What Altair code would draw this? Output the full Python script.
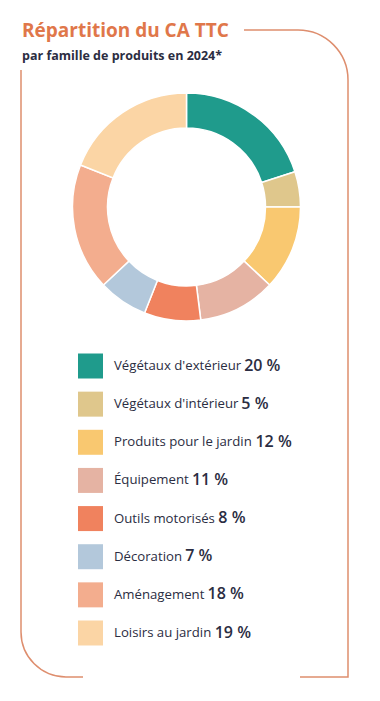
import altair as alt
import pandas as pd

# ---- data ----
categories = ["Végétaux d'extérieur", "Végétaux d'intérieur", "Produits pour le jardin",
              "Équipement", "Outils motorisés", "Décoration", "Aménagement", "Loisirs au jardin"]
shares = [20, 5, 12, 11, 8, 7, 18, 19]
colors = ["#1f9b8c", "#dfc78c", "#f9c870", "#e5b3a3", "#f0825e", "#b3c8db", "#f3ad8e", "#fbd5a5"]
title_text = "Répartition du CA TTC"
subtitle_text = "par famille de produits en 2024*"

# ---- styling ----
FONT = "Open Sans"
LABEL_SIZE = 13.2
PCT_SIZE = 16
TEXT_COLOR = "#2b2d42"
ACCENT = "#e0774a"
BORDER = "#de8e6e"
LABEL_X = 106

# approximate Open Sans advance widths (em) to place the bold percentage after each label
W = {'a': .556, 'b': .613, 'c': .48, 'd': .613, 'e': .561, 'f': .336, 'g': .546, 'h': .614,
     'i': .258, 'j': .258, 'k': .529, 'l': .258, 'm': .932, 'n': .614, 'o': .604, 'p': .613,
     'q': .613, 'r': .409, 's': .478, 't': .353, 'u': .614, 'v': .501, 'w': .778, 'x': .524,
     'y': .501, 'z': .463, ' ': .26, "'": .203, 'V': .592, 'P': .612, 'É': .556, 'E': .556,
     'O': .78, 'D': .73, 'A': .633, 'L': .519, 'é': .561}


def text_w(s, size):
    return sum(W.get(c, .56) for c in s) * size


df = pd.DataFrame({
    "cat": categories,
    "share": shares,
    "order": list(range(len(categories))),
})
df["pct"] = [f"{v} %" for v in shares]
df["px"] = [LABEL_X + text_w(c, LABEL_SIZE) + 3 for c in categories]

one = pd.DataFrame({"a": [0]})

border = alt.Chart(one).mark_rect(
    fillOpacity=0, stroke=BORDER, strokeWidth=1.5,
    cornerRadiusTopRight=50, cornerRadiusBottomLeft=45
).encode(x=alt.value(13), x2=alt.value(340), y=alt.value(22), y2=alt.value(669))

cover_top = alt.Chart(one).mark_rect(fill="white").encode(
    x=alt.value(0), x2=alt.value(236), y=alt.value(0), y2=alt.value(62))
cover_bottom = alt.Chart(one).mark_rect(fill="white").encode(
    x=alt.value(75), x2=alt.value(292), y=alt.value(662), y2=alt.value(676))

color = alt.Color("cat:N", scale=alt.Scale(domain=categories, range=colors), legend=None)

donut = alt.Chart(df).mark_arc(innerRadius=79, outerRadius=114, stroke="white", strokeWidth=1.5).encode(
    theta=alt.Theta("share:Q", stack=True),
    order=alt.Order("order:Q"),
    color=color,
    x=alt.value(178.5), y=alt.value(199),
)

yenc = alt.Y("cat:N", sort=categories, axis=None,
             scale=alt.Scale(type="point", range=[358, 625], padding=0))

squares = alt.Chart(df).mark_square(size=625, opacity=1, strokeWidth=0).encode(
    x=alt.value(82.5), y=yenc, color=color)

labels = alt.Chart(df).mark_text(align="left", baseline="middle", font=FONT,
                                 fontSize=LABEL_SIZE, color=TEXT_COLOR).encode(
    x=alt.value(LABEL_X), y=yenc, text="cat:N")

pcts = alt.Chart(df).mark_text(align="left", baseline="middle", font=FONT, fontWeight=600,
                               fontSize=PCT_SIZE, color=TEXT_COLOR, dy=-0.5).encode(
    x=alt.X("px:Q", scale=None), y=yenc, text="pct:N")

title = alt.Chart(one).mark_text(align="left", baseline="alphabetic", font=FONT, fontWeight="bold",
                                 fontSize=19, color=ACCENT).encode(
    x=alt.value(14), y=alt.value(29), text=alt.value(title_text))

subtitle = alt.Chart(one).mark_text(align="left", baseline="alphabetic", font=FONT, fontWeight="bold",
                                    fontSize=12.5, color=TEXT_COLOR).encode(
    x=alt.value(14), y=alt.value(52), text=alt.value(subtitle_text))

chart = alt.layer(border, cover_top, cover_bottom, donut, squares, labels, pcts, title, subtitle).properties(
    width=364, height=685, autosize=alt.AutoSizeParams(type="none"), padding=0
).configure_view(stroke=None)

chart.save("out.html", embed_options={"renderer": "svg", "actions": False})
